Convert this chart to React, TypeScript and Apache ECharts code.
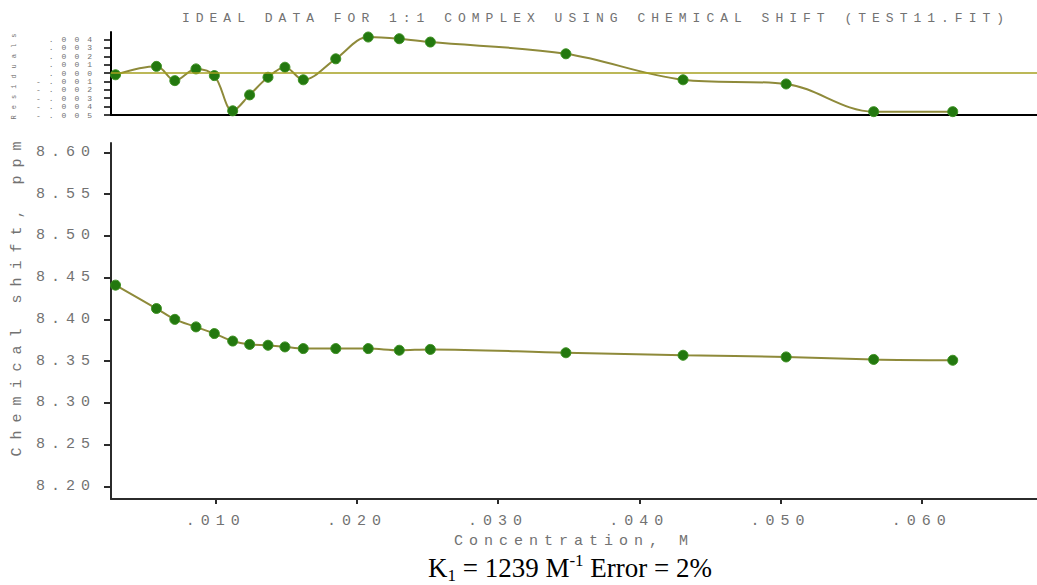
import React, { useEffect, useRef } from 'react';
import * as echarts from 'echarts';

// Concentration of titrant, M
const concentration = [
  0.0029, 0.0058, 0.0071, 0.0086, 0.0099, 0.0112, 0.0124, 0.0137, 0.0149, 0.0162,
  0.0185, 0.0208, 0.023, 0.0252, 0.0348, 0.0431, 0.0504, 0.0566, 0.0622,
];
// Observed chemical shift, ppm
const chemicalShift = [
  8.441, 8.413, 8.4, 8.391, 8.383, 8.374, 8.37, 8.369, 8.367, 8.365,
  8.365, 8.365, 8.363, 8.364, 8.36, 8.357, 8.355, 8.352, 8.351,
];
// Fit residuals, ppm
const residuals = [
  -0.0002, 0.0008, -0.0009, 0.0005, -0.0003, -0.0045, -0.0026, -0.0005, 0.0007, -0.0008,
  0.0017, 0.0043, 0.0041, 0.0037, 0.0023, -0.0008, -0.0013, -0.0046, -0.0046,
];

const xTicks = [0.01, 0.02, 0.03, 0.04, 0.05, 0.06];
const shiftTicks = [8.2, 8.25, 8.3, 8.35, 8.4, 8.45, 8.5, 8.55, 8.6];
const residualTicks = [-0.005, -0.004, -0.003, -0.002, -0.001, 0, 0.001, 0.002, 0.003, 0.004];

const titleText = 'IDEAL DATA FOR 1:1 COMPLEX USING CHEMICAL SHIFT (TEST11.FIT)';
const xName = 'Concentration, M';
const yName = 'Chemical shift, ppm';
const residualName = 'Residuals';

const css = `
text[style*="Liberation Mono"] { letter-spacing: 6px; }
text[style*="Courier New"] { letter-spacing: 8px; }
`;

const MONO = 'Liberation Mono, monospace';
const MONO_WIDE = 'Courier New, Liberation Mono, monospace';
const TEXT_GRAY = '#727272';
const AXIS_DARK = '#2b2b2b';
const LINE_OLIVE = '#8e8a3a';
const DOT_GREEN = '#23780f';

const fmtX = (v: number) => v.toFixed(3).replace(/^0/, '');
const fmtRes = (v: number) => {
  if (Math.abs(v) < 1e-9) return '.000';
  const s = Math.abs(v).toFixed(3).replace(/^0/, '');
  return v < 0 ? '-' + s : s;
};

export default function App() {
  const ref = useRef<HTMLDivElement>(null);

  useEffect(() => {
    if (!ref.current) return;
    const chart = echarts.init(ref.current, null, { renderer: 'svg' });

    const shiftData = concentration.map((c, i) => [c, chemicalShift[i]]);
    const residualData = concentration.map((c, i) => [c, residuals[i]]);

    const xCommon = {
      type: 'value',
      min: 0.00258,
      max: 0.06817,
      splitLine: { show: false },
    };

    const option: any = {
      animation: false,
      backgroundColor: '#ffffff',
      grid: [
        { left: 111, right: 0, top: 32, bottom: 470, containLabel: false },
        { left: 111, right: 0, top: 143, bottom: 86, containLabel: false },
      ],
      xAxis: [
        {
          ...xCommon,
          gridIndex: 0,
          axisLine: { show: true, onZero: false, lineStyle: { color: '#000', width: 2 } },
          axisTick: { show: false },
          axisLabel: { show: false },
        },
        {
          ...xCommon,
          gridIndex: 1,
          name: xName,
          nameLocation: 'middle',
          nameGap: 33,
          nameTextStyle: { fontFamily: MONO, fontSize: 15, color: TEXT_GRAY },
          axisLine: { show: true, onZero: false, lineStyle: { color: AXIS_DARK, width: 2 } },
          axisTick: {
            show: true,
            length: 5,
            customValues: xTicks,
            lineStyle: { color: AXIS_DARK, width: 2 },
          },
          axisLabel: {
            customValues: xTicks,
            formatter: fmtX,
            fontFamily: MONO,
            fontSize: 15,
            color: TEXT_GRAY,
            margin: 15,
          },
        },
      ],
      yAxis: [
        {
          type: 'value',
          gridIndex: 0,
          min: -0.005,
          max: 0.0049,
          name: residualName,
          nameLocation: 'middle',
          nameGap: 94,
          nameTextStyle: { fontFamily: MONO, fontSize: 7, color: TEXT_GRAY },
          splitLine: { show: false },
          axisLine: { show: true, onZero: false, lineStyle: { color: '#000', width: 2 } },
          axisTick: {
            show: true,
            length: 7,
            customValues: residualTicks,
            lineStyle: { color: '#000', width: 1.5 },
          },
          axisLabel: {
            customValues: residualTicks,
            formatter: fmtRes,
            showMinLabel: true,
            showMaxLabel: true,
            fontFamily: MONO_WIDE,
            fontSize: 8,
            lineHeight: 8,
            color: TEXT_GRAY,
            margin: 11,
          },
        },
        {
          type: 'value',
          gridIndex: 1,
          min: 8.1848,
          max: 8.6113,
          name: yName,
          nameLocation: 'middle',
          nameGap: 86,
          nameTextStyle: {
            fontFamily: MONO_WIDE,
            fontSize: 15,
            color: TEXT_GRAY,
            padding: [0, 0, 0, 52],
          },
          splitLine: { show: false },
          axisLine: { show: true, onZero: false, lineStyle: { color: AXIS_DARK, width: 2 } },
          axisTick: {
            show: true,
            length: 7,
            customValues: shiftTicks,
            lineStyle: { color: AXIS_DARK, width: 2 },
          },
          axisLabel: {
            customValues: shiftTicks,
            formatter: (v: number) => v.toFixed(2),
            fontFamily: MONO,
            fontSize: 15,
            color: TEXT_GRAY,
            margin: 15,
          },
        },
      ],
      series: [
        {
          name: 'Residuals',
          type: 'line',
          xAxisIndex: 0,
          yAxisIndex: 0,
          data: residualData,
          smooth: 0.35,
          symbol: 'circle',
          symbolSize: 10,
          itemStyle: { color: DOT_GREEN, borderColor: '#3b9020', borderWidth: 1 },
          lineStyle: { color: LINE_OLIVE, width: 2 },
          markLine: {
            silent: true,
            symbol: 'none',
            label: { show: false },
            lineStyle: { color: '#a6a020', width: 1.5, type: 'solid' },
            data: [{ yAxis: 0 }],
          },
        },
        {
          name: 'Chemical shift',
          type: 'line',
          xAxisIndex: 1,
          yAxisIndex: 1,
          data: shiftData,
          smooth: 0.35,
          symbol: 'circle',
          symbolSize: 10,
          itemStyle: { color: DOT_GREEN, borderColor: '#3b9020', borderWidth: 1 },
          lineStyle: { color: LINE_OLIVE, width: 2 },
        },
      ],
      graphic: [
        {
          type: 'text',
          x: 596,
          y: 18,
          style: {
            text: titleText,
            fontFamily: MONO,
            fontSize: 13,
            fill: TEXT_GRAY,
            align: 'center',
            textAlign: 'center',
            verticalAlign: 'middle',
            textVerticalAlign: 'middle',
          },
        },
        {
          type: 'text',
          x: 570,
          y: 568,
          style: {
            text: '{m|K}{s|1}{m| = 1239 M}{u|-1}{m| Error = 2%}',
            fill: '#000',
            align: 'center',
            textAlign: 'center',
            verticalAlign: 'middle',
            textVerticalAlign: 'middle',
            rich: {
              m: { fontFamily: 'Liberation Serif, Times New Roman, serif', fontSize: 27, lineHeight: 32, fill: '#000' },
              s: { fontFamily: 'Liberation Serif, Times New Roman, serif', fontSize: 17, lineHeight: 20, verticalAlign: 'bottom', fill: '#000' },
              u: { fontFamily: 'Liberation Serif, Times New Roman, serif', fontSize: 17, lineHeight: 20, verticalAlign: 'top', fill: '#000' },
            },
          },
        },
      ],
    };

    chart.setOption(option);
    return () => chart.dispose();
  }, []);

  return (
    <>
      <style>{css}</style>
      <div
        ref={ref}
        style={{ position: 'absolute', left: 0, top: 0, width: 1037, height: 585, background: '#fff' }}
      />
    </>
  );
}
